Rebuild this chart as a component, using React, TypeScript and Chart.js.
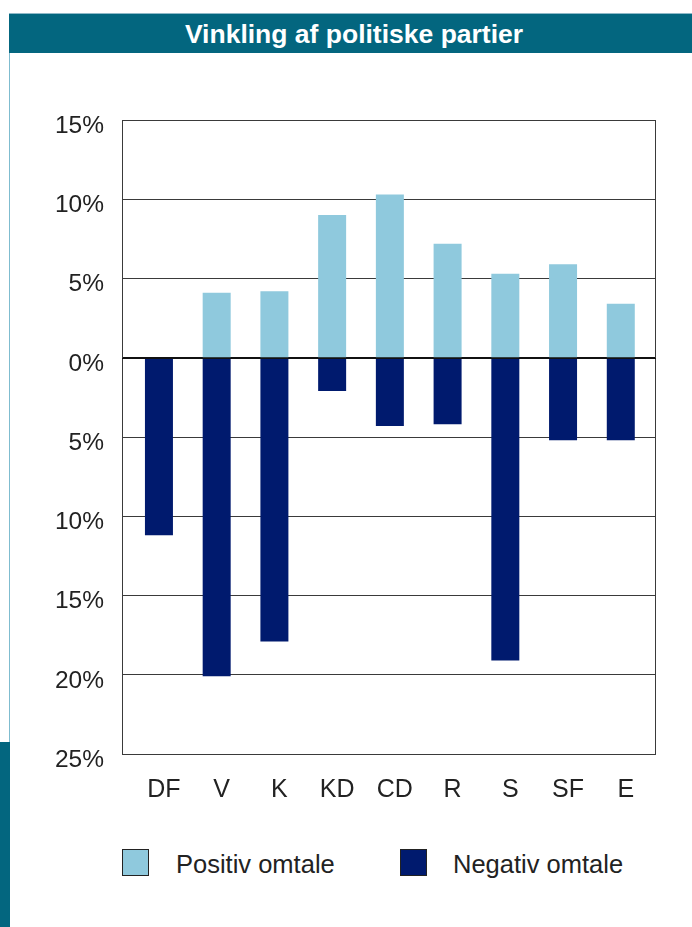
import React, { useEffect, useRef } from "react";
import { Chart, registerables } from "chart.js";

Chart.register(...registerables);

const title = "Vinkling af politiske partier";
const categories = ["DF", "V", "K", "KD", "CD", "R", "S", "SF", "E"];
const positiveValues = [0, 4.1, 4.2, 9.0, 10.3, 7.2, 5.3, 5.9, 3.4];
const negativeValues = [-11.2, -20.1, -17.9, -2.1, -4.3, -4.2, -19.1, -5.2, -5.2];
const seriesNames = ["Positiv omtale", "Negativ omtale"];
const seriesColors = ["#8fc9dd", "#001a6e"];
const yTicks = [15, 10, 5, 0, -5, -10, -15, -20, -25];

const FONT = "'Liberation Sans', Arial, Helvetica, sans-serif";
const TEAL = "#03667f";

const framePlugin = {
  id: "frameBox",
  afterDatasetsDraw(chart: any) {
    const { ctx, chartArea } = chart;
    const { left, top, right, bottom } = chartArea;
    ctx.save();
    ctx.strokeStyle = "#3a3a3a";
    ctx.lineWidth = 1;
    ctx.beginPath();
    ctx.moveTo(Math.round(left) + 0.5, Math.round(top) + 0.5);
    ctx.lineTo(Math.round(left) + 0.5, Math.round(bottom) + 0.5);
    ctx.lineTo(Math.round(right) - 0.5, Math.round(bottom) + 0.5);
    ctx.lineTo(Math.round(right) - 0.5, Math.round(top) + 0.5);
    ctx.stroke();
    const y0 = Math.round(chart.scales.y.getPixelForValue(0)) + 0.5;
    ctx.strokeStyle = "#111";
    ctx.beginPath();
    ctx.moveTo(left, y0);
    ctx.lineTo(right, y0);
    ctx.stroke();
    ctx.restore();
  },
};

function BarChart() {
  const ref = useRef<HTMLCanvasElement | null>(null);
  useEffect(() => {
    if (!ref.current) return;
    const chart = new Chart(ref.current, {
      type: "bar",
      data: {
        datasets: [
          {
            label: seriesNames[0],
            data: positiveValues.map((v, i) => ({ x: i, y: v })),
            backgroundColor: seriesColors[0],
            borderWidth: 0,
            barPercentage: 0.485,
            categoryPercentage: 1,
          },
          {
            label: seriesNames[1],
            data: negativeValues.map((v, i) => ({ x: i, y: v })),
            backgroundColor: seriesColors[1],
            borderWidth: 0,
            barPercentage: 0.485,
            categoryPercentage: 1,
          },
        ],
      },
      options: {
        responsive: false,
        animation: false,
        devicePixelRatio: 1,
        layout: { padding: { top: 120, right: 36, left: 0, bottom: 0 } },
        plugins: {
          legend: { display: false },
          tooltip: { enabled: false },
          title: { display: false },
        },
        scales: {
          x: {
            type: "linear",
            stacked: true,
            offset: false,
            min: -0.64,
            max: 8.61,
            grid: { display: false, drawTicks: false },
            border: { display: false },
            afterBuildTicks: (scale: any) => {
              scale.ticks = categories.map((_, i) => ({ value: i }));
            },
            afterFit: (scale: any) => {
              scale.height = 66;
            },
            ticks: {
              autoSkip: false,
              maxRotation: 0,
              padding: 21,
              labelOffset: 5,
              color: "#222",
              font: { family: FONT, size: 25 },
              callback: (v: any) => categories[v] ?? "",
            },
          },
          y: {
            stacked: true,
            min: -25,
            max: 15,
            grid: {
              drawTicks: false,
              color: (c: any) => (c.tick && c.tick.value === 0 ? "#111" : "#3a3a3a"),
              lineWidth: 1,
            },
            border: { display: false },
            afterBuildTicks: (scale: any) => {
              scale.ticks = yTicks.map((v) => ({ value: v }));
            },
            afterFit: (scale: any) => {
              scale.width = 122;
            },
            ticks: {
              padding: 18,
              labelOffset: 6,
              color: "#222",
              font: { family: FONT, size: 24.5 },
              callback: (v: any) => Math.abs(Number(v)) + "%",
            },
          },
        },
      },
      plugins: [framePlugin],
    });
    return () => chart.destroy();
  }, []);
  return (
    <canvas
      ref={ref}
      width={692}
      height={820}
      style={{ position: "absolute", left: 0, top: 0, width: 692, height: 820 }}
    />
  );
}

export default function App() {
  const legendText: React.CSSProperties = {
    position: "absolute",
    top: 848,
    height: 32,
    lineHeight: "32px",
    fontFamily: FONT,
    fontSize: 25.5,
    color: "#222",
    whiteSpace: "nowrap",
  };
  const box: React.CSSProperties = {
    position: "absolute",
    top: 849,
    width: 27,
    height: 27,
    boxSizing: "border-box",
    border: "1px solid #222",
  };
  return (
    <div
      style={{
        position: "absolute",
        left: 0,
        top: 0,
        width: 692,
        height: 927,
        background: "#fff",
        overflow: "hidden",
      }}
    >
      <div
        style={{
          position: "absolute",
          left: 9,
          top: 13,
          width: 683,
          height: 40,
          boxSizing: "border-box",
          borderTop: "1px solid #8fb9c8",
          background: TEAL,
          color: "#fff",
          fontFamily: FONT,
          fontWeight: "bold",
          fontSize: 26.5,
          lineHeight: "41px",
          textAlign: "center",
          paddingLeft: 7,
        }}
      >
        {title}
      </div>
      <div
        style={{
          position: "absolute",
          left: 9,
          top: 53,
          width: 1,
          height: 689,
          background: "#7fbccf",
        }}
      />
      <div
        style={{
          position: "absolute",
          left: 0,
          top: 742,
          width: 10,
          height: 185,
          background: TEAL,
        }}
      />
      <BarChart />
      <div style={{ ...box, left: 122, background: seriesColors[0] }} />
      <div style={{ ...legendText, left: 176 }}>{seriesNames[0]}</div>
      <div style={{ ...box, left: 400, background: seriesColors[1] }} />
      <div style={{ ...legendText, left: 453 }}>{seriesNames[1]}</div>
    </div>
  );
}
